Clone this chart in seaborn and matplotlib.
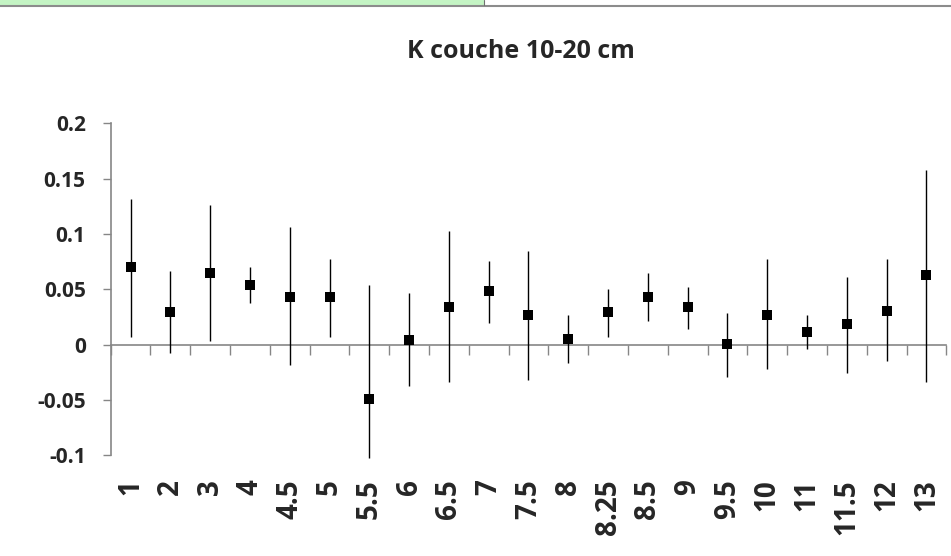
import matplotlib
matplotlib.use("Agg")
import matplotlib.pyplot as plt
from matplotlib.patches import Rectangle
from matplotlib.lines import Line2D
import seaborn as sns
import pandas as pd

categories = ["1", "2", "3", "4", "4.5", "5", "5.5", "6", "6.5", "7", "7.5", "8",
              "8.25", "8.5", "9", "9.5", "10", "11", "11.5", "12", "13"]
means = [0.0699, 0.0294, 0.0645, 0.0537, 0.0429, 0.0429, -0.0490, 0.0041, 0.0339, 0.0483,
         0.0267, 0.0050, 0.0294, 0.0429, 0.0339, 0.0005, 0.0267, 0.0114, 0.0186, 0.0303, 0.0627]
upper = [0.1315, 0.0667, 0.1260, 0.0703, 0.1063, 0.0775, 0.0540, 0.0468, 0.1023, 0.0753,
         0.0843, 0.0267, 0.0500, 0.0645, 0.0519, 0.0288, 0.0771, 0.0267, 0.0609, 0.0771, 0.1582]
lower = [0.0072, -0.0072, 0.0036, 0.0378, -0.0180, 0.0072, -0.1027, -0.0378, -0.0342, 0.0198,
         -0.0324, -0.0162, 0.0072, 0.0216, 0.0144, -0.0288, -0.0216, -0.0036, -0.0252, -0.0144, -0.0342]
yticks = [-0.1, -0.05, 0, 0.05, 0.1, 0.15, 0.2]
ytick_labels = ["-0.1", "-0.05", "0", "0.05", "0.1", "0.15", "0.2"]
title = "K couche 10-20 cm"

df = pd.DataFrame({"cat": categories, "mean": means, "lo": lower, "hi": upper})
df["pos"] = range(len(df))

sns.set_style("white")
plt.rcParams["font.family"] = ["Open Sans", "DejaVu Sans"]

fig = plt.figure(figsize=(9.51, 5.56), dpi=100)
ax = fig.add_axes([110.7 / 951, 1 - 455.3 / 556, (946.3 - 110.7) / 951, (455.3 - 123.3) / 556])

axis_gray = "#868686"
ax.vlines(df["pos"], df["lo"], df["hi"], color="black", linewidth=1.0, zorder=2, clip_on=False)
sns.scatterplot(data=df, x="pos", y="mean", marker="s", s=55, color="black",
                edgecolor="black", linewidth=0, ax=ax, zorder=3, legend=False)

ax.set_xlim(-0.5, len(categories) - 0.5)
ax.set_ylim(-0.1, 0.2)
ax.set_yticks(yticks)
ax.set_yticklabels(ytick_labels, fontsize=15, fontweight="bold")
ax.tick_params(axis="y", direction="out", length=6, width=1, color=axis_gray, pad=12, left=True)

for s in ["top", "right", "bottom"]:
    ax.spines[s].set_visible(False)
ax.spines["left"].set_color(axis_gray)
ax.spines["left"].set_linewidth(1.2)

# category labels at the bottom (no tick marks)
ax.set_xticks(list(df["pos"]))
ax.set_xticklabels(categories, rotation=90, fontsize=20, fontweight="bold", va="top", ha="center")
ax.tick_params(axis="x", length=0, pad=17)
ax.set_xlabel("")
ax.set_ylabel("")

# horizontal axis line at y = 0 with boundary ticks
sec = ax.secondary_xaxis(1 / 3)
sec.set_xticks([p - 0.5 for p in df["pos"]] + [len(categories) - 0.5])
sec.set_xticklabels([])
sec.tick_params(axis="x", direction="out", length=7.5, width=1, color=axis_gray)
sec.spines["bottom"].set_color(axis_gray)
sec.spines["bottom"].set_linewidth(1.2)

fig.text(520.5 / 951, 1 - 52 / 556, title, ha="center", va="center",
         fontsize=18, fontweight="bold")

# window decoration at the top
fig.add_artist(Rectangle((0, 1 - 4.5 / 556), 484 / 951, 4.5 / 556, transform=fig.transFigure,
                         facecolor="#c4f4c4", edgecolor="none"))
fig.add_artist(Line2D([0, 1], [1 - 5.5 / 556, 1 - 5.5 / 556], transform=fig.transFigure,
                      color="#8c8c8c", linewidth=1.5))
fig.add_artist(Line2D([484 / 951, 484 / 951], [1 - 5 / 556, 1], transform=fig.transFigure,
                      color="#707070", linewidth=0.8))

fig.savefig("out.png", dpi=100)
